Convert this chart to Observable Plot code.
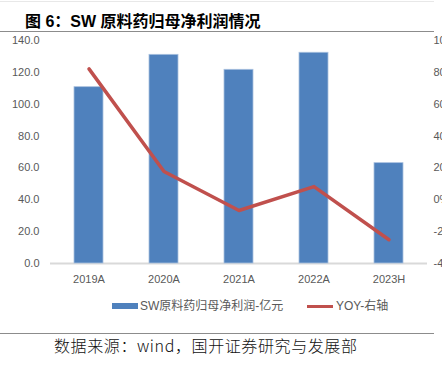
<!DOCTYPE html>
<html><head><meta charset="utf-8">
<script src="https://cdn.jsdelivr.net/npm/d3@7"></script>
<script src="https://cdn.jsdelivr.net/npm/@observablehq/plot@0.6"></script>
<style>
body{margin:0;background:#fff;}
#wrap{position:relative;width:442px;height:366px;overflow:hidden;background:#fff;font-family:"Liberation Sans",Arial,"Noto Sans CJK SC",sans-serif;}
.rule{position:absolute;left:0;width:434px;height:1px;}
#chart{position:absolute;left:0;top:0;}
#title{position:absolute;left:25px;top:11px;font-size:16px;font-weight:bold;color:#000;line-height:22px;white-space:nowrap;font-family:"Liberation Sans",Arial,"Noto Sans CJK SC",sans-serif;}
.lg{position:absolute;white-space:nowrap;font-size:12px;color:#595959;line-height:14px;font-family:"Liberation Sans",Arial,"Noto Sans CJK SC",sans-serif;}
#caption{position:absolute;left:54px;top:334px;font-size:16px;line-height:22px;color:#111;white-space:nowrap;font-weight:300;letter-spacing:0.6px;font-family:"Noto Sans CJK SC",sans-serif;}
</style></head><body>
<div id="wrap">
  <div class="rule" style="top:1px;background:#e8e8e8"></div>
  <div id="title">图 6：SW 原料药归母净利润情况</div>
  <div class="rule" style="top:31px;background:#8c8c8c"></div>
  <div id="chart"></div>
  <div class="lg" style="left:112px;top:303px;width:26px;height:6px;background:#4F81BD"></div>
  <div class="lg" id="lg1" style="left:140px;top:299px"></div>
  <div class="lg" style="left:307px;top:305px;width:26px;height:3px;background:#C0504D"></div>
  <div class="lg" id="lg2" style="left:336px;top:299px"></div>
  <div class="rule" style="top:333px;background:#8c8c8c"></div>
  <div id="caption">数据来源：wind，国开证券研究与发展部</div>
</div>
<script>
const categories = ["2019A", "2020A", "2021A", "2022A", "2023H"];
const profit = [110.7, 131.0, 121.6, 132.3, 63.0];      // 归母净利润 (亿元)
const yoy = [82.2, 17.8, -6.7, 8.3, -25.1];              // YOY (%) 右轴
const leftTicks = [0, 20, 40, 60, 80, 100, 120, 140];
const rightTicks = [-40, -20, 0, 20, 40, 60, 80, 100];
const seriesNames = ["SW原料药归母净利润-亿元", "YOY-右轴"];
const rightOffset = 40; // right axis -40% aligns with left 0

const table = categories.map((c, i) => ({cat: c, profit: profit[i], yoy: yoy[i]}));

document.getElementById("lg1").textContent = seriesNames[0];
document.getElementById("lg2").textContent = seriesNames[1];

const chart = Plot.plot({
  width: 442,
  height: 300,
  marginTop: 40,
  marginBottom: 37,
  marginLeft: 50,
  marginRight: 15,
  style: {fontSize: "11px", color: "#595959", fontFamily: "'Liberation Sans', Arial, sans-serif", background: "transparent"},
  x: {type: "band", domain: categories, paddingInner: 0.61, paddingOuter: 0.305, align: 0.5, label: null},
  y: {domain: [0, 140], label: null},
  marks: [
    Plot.axisY(leftTicks, {anchor: "left", tickSize: 0, tickPadding: 11, tickFormat: d3.format(".1f"), label: null}),
    Plot.axisY(rightTicks.map(r => r + rightOffset), {anchor: "right", tickSize: 0, tickPadding: 6, tickFormat: d => (d - rightOffset) + "%", textAnchor: "start", label: null}),
    Plot.axisX({anchor: "bottom", tickSize: 0, tickPadding: 12, label: null}),
    Plot.ruleY([0], {stroke: "#d9d9d9", strokeWidth: 2}),
    Plot.barY(table, {x: "cat", y: "profit", fill: "#4F81BD", stroke: "#a9c1df", strokeWidth: 0.8}),
    Plot.line(table, {x: "cat", y: d => d.yoy + rightOffset, stroke: "#C0504D", strokeWidth: 3.5, strokeLinejoin: "round"})
  ]
});
document.getElementById("chart").appendChild(chart);
</script>
</body></html>
